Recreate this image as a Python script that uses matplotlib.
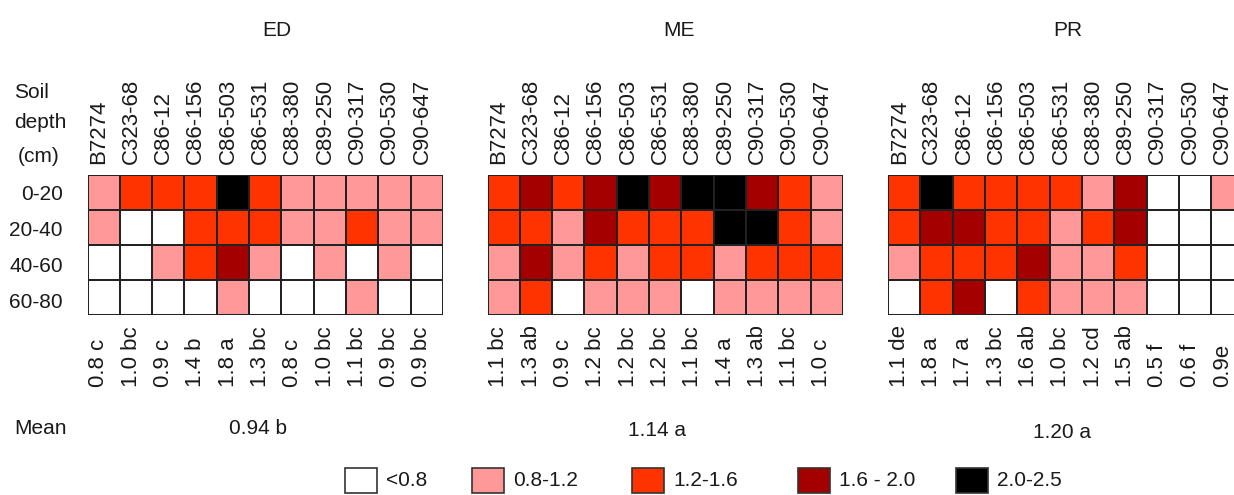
import numpy as np
import matplotlib
matplotlib.use('Agg')
import matplotlib.pyplot as plt
from matplotlib.colors import ListedColormap, BoundaryNorm
from matplotlib.patches import Rectangle

plt.rcParams['font.family'] = ['Liberation Sans', 'DejaVu Sans']

W, H = 1234, 495

genotypes = ['B7274', 'C323-68', 'C86-12', 'C86-156', 'C86-503', 'C86-531',
             'C88-380', 'C89-250', 'C90-317', 'C90-530', 'C90-647']
depths = ['0-20', '20-40', '40-60', '60-80']
sites = ['ED', 'ME', 'PR']

# class of each cell: 0 <0.8, 1 0.8-1.2, 2 1.2-1.6, 3 1.6-2.0, 4 2.0-2.5
ed_cls = [[1, 2, 2, 2, 4, 2, 1, 1, 1, 1, 1],
          [1, 0, 0, 2, 2, 2, 1, 1, 2, 1, 1],
          [0, 0, 1, 2, 3, 1, 0, 1, 0, 1, 0],
          [0, 0, 0, 0, 1, 0, 0, 0, 1, 0, 0]]
me_cls = [[2, 3, 2, 3, 4, 3, 4, 4, 3, 2, 1],
          [2, 2, 1, 3, 2, 2, 2, 4, 4, 2, 1],
          [1, 3, 1, 2, 1, 2, 2, 1, 2, 2, 2],
          [1, 2, 0, 1, 1, 1, 0, 1, 1, 1, 1]]
pr_cls = [[2, 4, 2, 2, 2, 2, 1, 3, 0, 0, 1],
          [2, 3, 3, 2, 2, 1, 2, 3, 0, 0, 0],
          [1, 2, 2, 2, 3, 1, 1, 2, 0, 0, 0],
          [0, 2, 3, 0, 2, 1, 1, 1, 0, 0, 0]]

ed_means = ['0.8 c', '1.0 bc', '0.9 c', '1.4 b', '1.8 a', '1.3 bc', '0.8 c',
            '1.0 bc', '1.1 bc', '0.9 bc', '0.9 bc']
me_means = ['1.1 bc', '1.3 ab', '0.9 c', '1.2 bc', '1.2 bc', '1.2 bc', '1.1 bc',
            '1.4 a', '1.3 ab', '1.1 bc', '1.0 c']
pr_means = ['1.1 de', '1.8 a', '1.7 a', '1.3 bc', '1.6 ab', '1.0 bc', '1.2 cd',
            '1.5 ab', '0.5 f', '0.6 f', '0.9e']
site_mean = ['0.94 b', '1.14 a', '1.20 a']

legend_labels = ['<0.8', '0.8-1.2', '1.2-1.6', '1.6 - 2.0', '2.0-2.5']
colors = ['#ffffff', '#ff9999', '#ff3300', '#a50000', '#000000']

cmap = ListedColormap(colors)
norm = BoundaryNorm(np.arange(-0.5, 5.5, 1), cmap.N)

fig = plt.figure(figsize=(W / 100, H / 100), dpi=100)
fs = 15
tc = '#1a1a1a'

lefts = [87.5, 487.5, 888]
titles_x = [277, 679, 1068]
mean_pos = [(258, 428), (657, 430), (1062, 432)]
top, bot, pw = 175, 315, 355.5
data = [ed_cls, me_cls, pr_cls]
means = [ed_means, me_means, pr_means]

for k in range(3):
    ax = fig.add_axes([lefts[k] / W, 1 - bot / H, pw / W, (bot - top) / H])
    ax.pcolormesh(np.array(data[k]), cmap=cmap, norm=norm,
                  edgecolors='#222222', linewidth=1.3)
    ax.set_xlim(0, 11)
    ax.set_ylim(4, 0)
    ax.axis('off')
    for i, g in enumerate(genotypes):
        ax.text(i + 0.35, -0.3, g, rotation=90, ha='center', va='bottom',
                fontsize=16, color=tc, clip_on=False)
        ax.text(i + 0.35, 6.05, means[k][i], rotation=90, ha='center', va='bottom',
                fontsize=16, color=tc, clip_on=False)
    fig.text(titles_x[k] / W, 1 - 30 / H, sites[k], ha='center', va='center',
             fontsize=fs, color=tc)
    fig.text(mean_pos[k][0] / W, 1 - mean_pos[k][1] / H, site_mean[k],
             ha='center', va='center', fontsize=fs, color=tc)

# soil depth labels
for txt, y in [('Soil', 93), ('depth', 122)]:
    fig.text(14 / W, 1 - y / H, txt, ha='left', va='center', fontsize=fs, color=tc)
fig.text(18 / W, 1 - 157 / H, '(cm)', ha='left', va='center', fontsize=fs, color=tc)
for r, d in enumerate(depths):
    fig.text(63 / W, 1 - (194 + r * 36) / H, d, ha='right', va='center',
             fontsize=fs, color=tc)
fig.text(14 / W, 1 - 428 / H, 'Mean', ha='left', va='center', fontsize=fs, color=tc)

# legend
box_x = [345, 472, 632, 798, 956]
for c, lab, bx in zip(colors, legend_labels, box_x):
    fig.add_artist(Rectangle((bx / W, 1 - 493 / H), 32 / W, 25 / H,
                             transform=fig.transFigure, facecolor=c,
                             edgecolor='#333333', linewidth=1.2))
    fig.text((bx + 41) / W, 1 - 481 / H, lab, ha='left', va='center',
             fontsize=fs, color=tc)

fig.savefig('out.png', dpi=100)
